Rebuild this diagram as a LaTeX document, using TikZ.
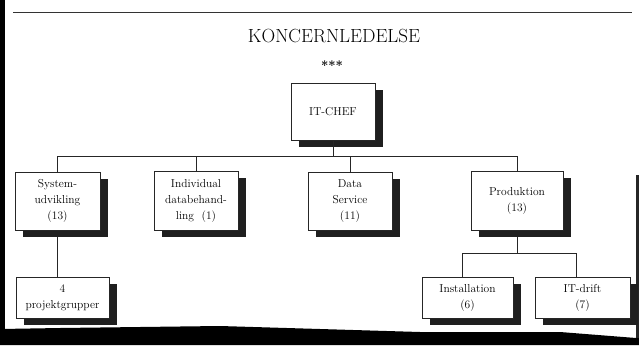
\documentclass[tikz,border=0pt]{standalone}
\usetikzlibrary{shadows}

\tikzset{
  unit/.style={draw=black!85, line width=0.8pt, fill=white, align=center,
    font=\fontsize{11.5}{16}\selectfont, inner sep=0pt,
    drop shadow={shadow xshift=8pt, shadow yshift=-7pt, fill=black!88, opacity=1}},
  link/.style={draw=black!85, line width=0.8pt},
}

\begin{document}
\begin{tikzpicture}[x=1pt, y=-1pt]
  \useasboundingbox (0,0) rectangle (639,345);
  \fill[white] (0,0) rectangle (639,345);

  % page edges of the scanned sheet
  \fill[black] (0,0) rectangle (5,345);
  \fill[black] (0,329) -- (60,328) -- (220,326) -- (420,332) -- (560,332)
    -- (636,338) -- (639,338) -- (639,345) -- (0,345) -- cycle;
  \fill[black!85] (636,175) rectangle (639,338);
  \draw[black!80, line width=0.8pt] (13,12) -- (632,12);

  % heading
  \node (title) at (334,36) {\fontsize{19}{22}\selectfont KONCERNLEDELSE};
  \node (stars) at (332,66) {\fontsize{13}{14}\selectfont\bfseries ***};

  % bus levels
  \coordinate (busY) at (0,156);
  \coordinate (subY) at (0,253);

  % units
  \node[unit, minimum width=84pt, minimum height=57pt] (chef) at (333,111.5) {IT-CHEF};
  \node[unit, minimum width=85pt, minimum height=58pt] (sys) at (57.5,201) {System-\\udvikling\\(13)};
  \node[unit, minimum width=84pt, minimum height=59pt] (ind) at (196,200.5) {Individual\\databehand-\\ling\ \ (1)};
  \node[unit, minimum width=84pt, minimum height=58pt] (data) at (350,201) {Data\\Service\\(11)};
  \node[unit, minimum width=92pt, minimum height=59pt] (prod) at (517,200.5) {Produktion\\(13)};
  \node[unit, minimum width=93pt, minimum height=41pt] (proj) at (62.5,297.5) {4\\projektgrupper};
  \node[unit, minimum width=91pt, minimum height=41pt] (inst) at (467.5,297.5) {Installation\\(6)};
  \node[unit, minimum width=95pt, minimum height=41pt] (itd) at (582.5,297.5) {IT-drift\\(7)};

  % connectors
  \draw[link] (chef.south) -- (chef.south |- busY);
  \draw[link] (sys.north) |- (prod.north |- busY) -- (prod.north);
  \draw[link] (ind.north) -- (ind.north |- busY);
  \draw[link] (data.north) -- (data.north |- busY);
  \draw[link] ([yshift=-7pt]sys.south) -- (sys.south |- proj.north);
  \draw[link] ([yshift=-7pt]prod.south) -- (prod.south |- subY);
  \draw[link] ([xshift=-5.5pt]inst.north) |- ([xshift=-6.5pt]itd.north |- subY) -- ([xshift=-6.5pt]itd.north);
\end{tikzpicture}
\end{document}
